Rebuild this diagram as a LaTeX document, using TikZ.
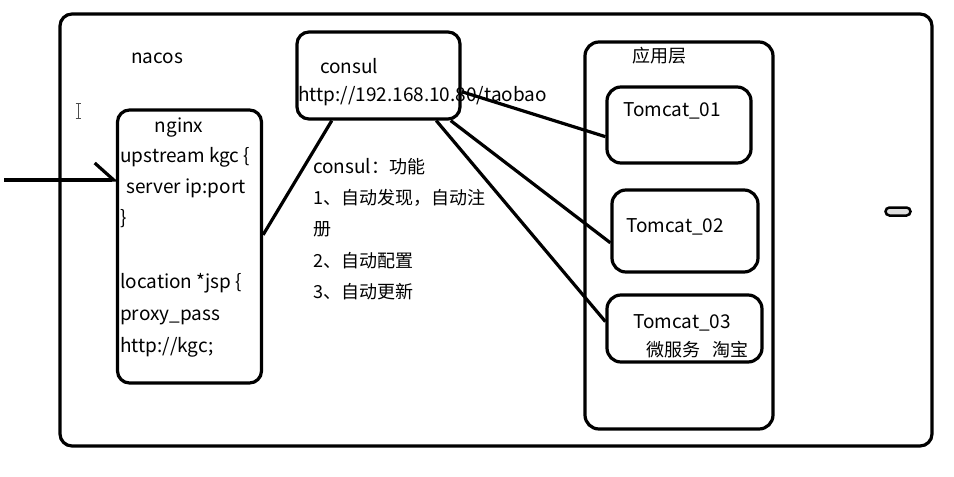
\documentclass[tikz,border=0pt]{standalone}
\usepackage{fontspec}
\setmainfont{Noto Sans CJK SC}
\usetikzlibrary{positioning,arrows.meta}

\begin{document}
\begin{tikzpicture}[x=1pt,y=1pt,
  frame/.style={draw,line width=3.2pt,rounded corners=12pt,inner sep=0pt},
  txt/.style={anchor=base west,inner sep=0pt,font=\fontsize{18}{22}\selectfont},
  code/.style={txt,font=\fontsize{19}{22}\selectfont},
  link/.style={line width=3.2pt}]
\useasboundingbox (0,0) rectangle (954,-477);

\node[frame,minimum width=872,minimum height=432] (outer) at (496,-230) {};
\node[frame,minimum width=144,minimum height=273] (nginx) at (189.5,-246.5) {};
\node[frame,minimum width=163,minimum height=87] (consul) at (378.5,-75.5) {};
\node[frame,rounded corners=14pt,minimum width=188,minimum height=387] (app) at (679,-235.5) {};
\node[frame,rounded corners=14pt,minimum width=144,minimum height=76] (t1) at (679,-125) {};
\node[frame,rounded corners=14pt,minimum width=146,minimum height=82] (t2) at (685,-231) {};
\node[frame,rounded corners=14pt,minimum width=155,minimum height=67] (t3) at (684.5,-328.5) {};
\node[draw,line width=2.5pt,rounded corners=4pt,fill=gray!25,inner sep=0pt,minimum width=25,minimum height=8] (pill) at (898,-211.5) {};

\node[code] (nacos) at (131,-63) {nacos};
\node[code] (consulname) at (320,-73) {consul};
\node[code] (consulurl) at (298,-101) {http://192.168.10.80/taobao};

% nginx config
\node[code,anchor=base] (nginxname) at (179,-132) {nginx};
\node[code] (conf1) at (120,-162) {upstream kgc \{};
\node[code] (conf2) at (126,-193) {server ip:port};
\node[code] (conf3) at (120,-224) {\}};
\node[code] (conf4) at (120,-288) {location *jsp \{};
\node[code] (conf5) at (120,-320) {proxy\_pass};
\node[code] (conf6) at (120,-352) {http://kgc;};

% consul features
\node[txt] (feat1) at (313,-173) {{\fontsize{19}{22}\selectfont consul}：功能};
\node[txt] (feat2) at (313,-204) {1、自动发现，自动注};
\node[txt] (feat3) at (313,-235) {册};
\node[txt] (feat4) at (313,-267) {2、自动配置};
\node[txt] (feat5) at (313,-298) {3、自动更新};

\node[txt] (applayer) at (632,-62) {应用层};
\node[code] (t1name) at (623,-116) {Tomcat\_01};
\node[code] (t2name) at (626,-232) {Tomcat\_02};
\node[code] (t3name) at (633,-328) {Tomcat\_03};
\node[txt] (t3note) at (646,-356) {微服务\hspace{12pt}淘宝};

% request coming in
\coordinate (src) at (4,-180);
\draw[link,-{Straight Barb[harpoon,length=19pt,width=34pt]}] (src) -- ([xshift=2pt]nginx.west |- src);

\draw[link] (nginx.9) -- (consul.224);
\draw[link] (consul.-11) -- (t1.189);
\draw[link] (consul.-32) -- (t2.189);
\draw[link] (consul.-38) -- (t3.175);

% text cursor
\draw[line width=1pt,gray!60!black] (78,-103) -- (78,-118) (75.5,-103) -- (80.5,-103) (75.5,-118) -- (80.5,-118);
\end{tikzpicture}
\end{document}
